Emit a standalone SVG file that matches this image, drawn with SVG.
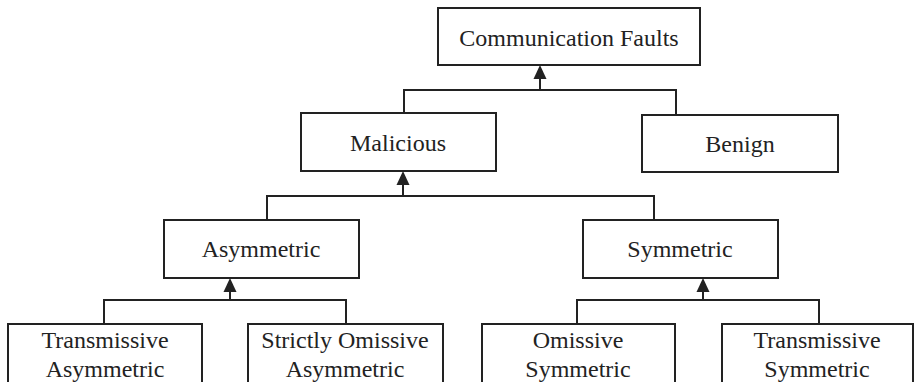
<svg xmlns="http://www.w3.org/2000/svg" width="915" height="382" viewBox="0 0 915 382">
<style>
.box{fill:#fff;stroke:#222;stroke-width:2}
.t{font-family:"Liberation Serif","Times New Roman",serif;font-size:24px;fill:#222;text-anchor:middle}
.ln{fill:none;stroke:#222;stroke-width:2}
.ah{fill:#222}
</style>
<rect width="915" height="382" fill="#fff"/>
<g id="connectors">
<polyline class="ln" points="404,113 404,90 676,90 676,115"/>
<line class="ln" x1="540" y1="90" x2="540" y2="76"/>
<polygon class="ah" points="540,65 533.5,79 546.5,79"/>
<polyline class="ln" points="267,220 267,196 654,196 654,220"/>
<line class="ln" x1="403" y1="196" x2="403" y2="182"/>
<polygon class="ah" points="403,171 396.5,185 409.5,185"/>
<polyline class="ln" points="104,324 104,300 346,300 346,324"/>
<line class="ln" x1="230" y1="300" x2="230" y2="289"/>
<polygon class="ah" points="230,278 223.5,292 236.5,292"/>
<polyline class="ln" points="577,324 577,300 819,300 819,324"/>
<line class="ln" x1="703" y1="300" x2="703" y2="289"/>
<polygon class="ah" points="703,278 696.5,292 709.5,292"/>
</g>
<g id="communication-faults"><rect class="box" x="438" y="8" width="262" height="57"/><text class="t" x="569" y="46">Communication Faults</text></g>
<g id="malicious"><rect class="box" x="301" y="113" width="195" height="58"/><text class="t" x="398" y="151">Malicious</text></g>
<g id="benign"><rect class="box" x="642" y="115" width="196" height="57"/><text class="t" x="740" y="152">Benign</text></g>
<g id="asymmetric"><rect class="box" x="164" y="220" width="195" height="58"/><text class="t" x="261" y="257">Asymmetric</text></g>
<g id="symmetric"><rect class="box" x="583" y="220" width="195" height="58"/><text class="t" x="680" y="257">Symmetric</text></g>
<g id="transmissive-asymmetric"><rect class="box" x="8" y="324" width="194" height="70"/><text class="t" x="105" y="348">Transmissive</text><text class="t" x="105" y="377">Asymmetric</text></g>
<g id="strictly-omissive-asymmetric"><rect class="box" x="248" y="324" width="195" height="70"/><text class="t" x="345" y="348">Strictly Omissive</text><text class="t" x="345" y="377">Asymmetric</text></g>
<g id="omissive-symmetric"><rect class="box" x="482" y="324" width="193" height="70"/><text class="t" x="578" y="348">Omissive</text><text class="t" x="578" y="377">Symmetric</text></g>
<g id="transmissive-symmetric"><rect class="box" x="722" y="324" width="191" height="70"/><text class="t" x="817" y="348">Transmissive</text><text class="t" x="817" y="377">Symmetric</text></g>
</svg>
